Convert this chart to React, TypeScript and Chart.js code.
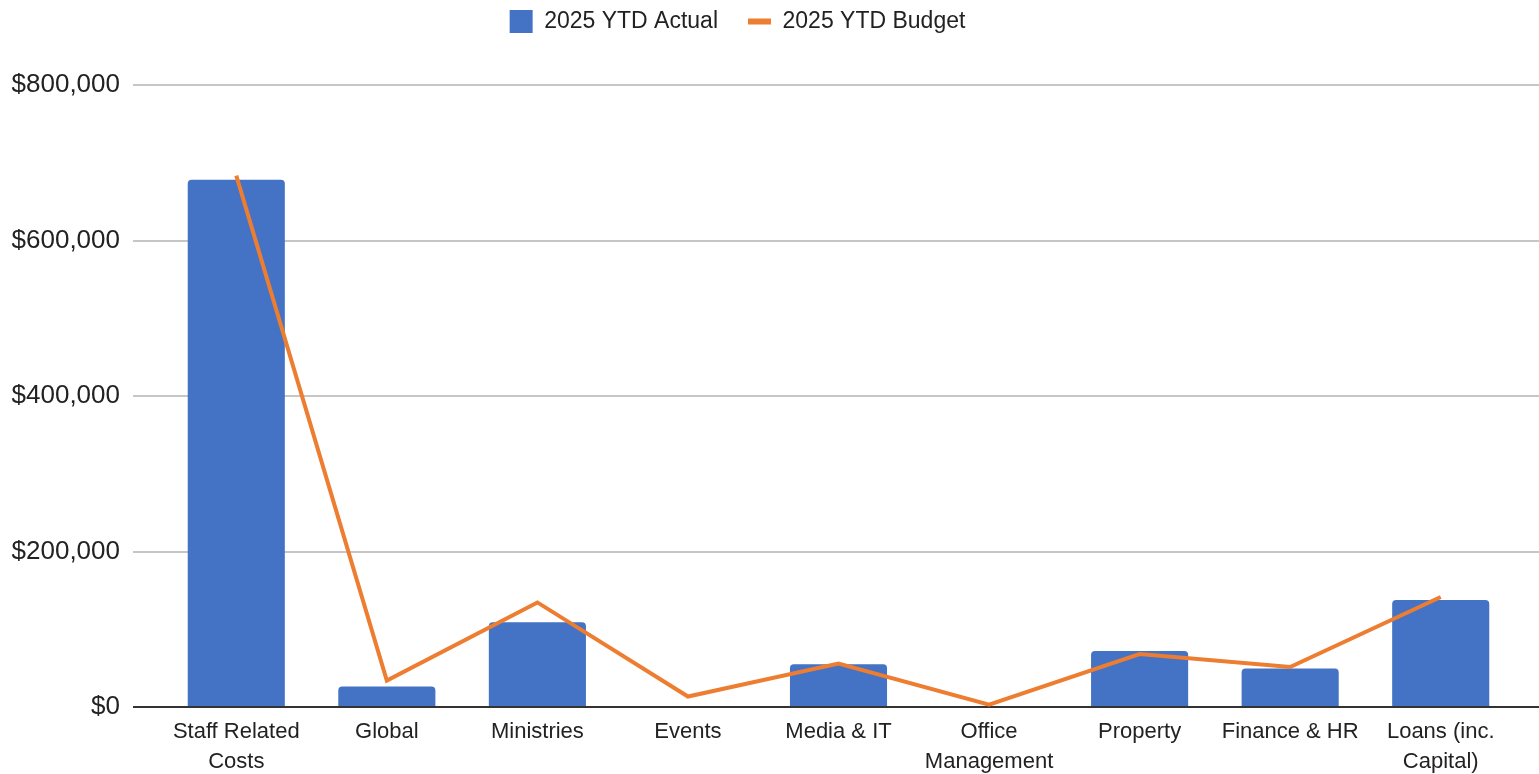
import React, { useEffect, useRef } from 'react';
import { Chart, registerables } from 'chart.js';

Chart.register(...registerables);

const categories: (string | string[])[] = [
  ['Staff Related', 'Costs'],
  'Global',
  'Ministries',
  'Events',
  'Media & IT',
  ['Office', 'Management'],
  'Property',
  'Finance & HR',
  ['Loans (inc.', 'Capital)'],
];
const actualValues = [678000, 26500, 109000, 0, 55000, 0, 72000, 49500, 137500];
const budgetValues = [683500, 34000, 134500, 13500, 56000, 3000, 68000, 51500, 141500];
const seriesNames = ['2025 YTD Actual', '2025 YTD Budget'];
const yMin = 0;
const yMax = 800000;
const yStep = 200000;

const BLUE = '#4472C4';
const ORANGE = '#ED7D31';
const FONT = "Arial, 'Liberation Sans', sans-serif";

const gridColor = (c: any) => (c.tick && c.tick.value === 0 ? '#333333' : '#c6c6c6');

const legendTweak = {
  id: 'legendTweak',
  beforeInit(chart: any) {
    const legend = chart.legend;
    if (!legend) return;
    const origFit = legend.fit;
    legend.fit = function () {
      origFit.call(this);
      this.height = 85;
    };
  },
  afterLayout(chart: any) {
    const l = chart.legend;
    if (!l) return;
    l.left -= 32;
    l.right -= 32;
    l.top -= 20;
    l.bottom -= 20;
  },
};

export default function App() {
  const ref = useRef<HTMLCanvasElement | null>(null);

  useEffect(() => {
    if (!ref.current) return;
    const chart = new Chart(ref.current, {
      type: 'bar',
      data: {
        labels: categories as any,
        datasets: [
          {
            type: 'bar',
            label: seriesNames[0],
            data: actualValues,
            backgroundColor: BLUE,
            borderWidth: 0,
            borderRadius: { topLeft: 4, topRight: 4, bottomLeft: 0, bottomRight: 0 },
            borderSkipped: 'bottom',
            categoryPercentage: 1,
            barPercentage: 0.645,
            order: 1,
          } as any,
          {
            type: 'line',
            label: seriesNames[1],
            data: budgetValues,
            borderColor: ORANGE,
            backgroundColor: ORANGE,
            borderWidth: 4,
            pointRadius: 0,
            pointHoverRadius: 0,
            tension: 0,
            fill: false,
            order: 0,
          } as any,
        ],
      },
      options: {
        animation: false,
        responsive: true,
        maintainAspectRatio: false,
        layout: { padding: 0 },
        plugins: {
          tooltip: { enabled: false },
          legend: {
            display: true,
            position: 'top',
            labels: {
              usePointStyle: true,
              pointStyleWidth: 23,
              boxHeight: 23,
              padding: 30,
              color: '#222222',
              font: { family: FONT, size: 23 },
              generateLabels: (ch: any) =>
                ch.data.datasets.map((ds: any, i: number) =>
                  ds.type === 'line'
                    ? {
                        text: ds.label,
                        datasetIndex: i,
                        pointStyle: 'line',
                        strokeStyle: ORANGE,
                        fillStyle: ORANGE,
                        lineWidth: 6,
                        fontColor: '#222222',
                        hidden: false,
                      }
                    : {
                        text: ds.label,
                        datasetIndex: i,
                        pointStyle: 'rect',
                        strokeStyle: BLUE,
                        fillStyle: BLUE,
                        lineWidth: 0,
                        fontColor: '#222222',
                        hidden: false,
                      }
                ),
            },
          },
        },
        scales: {
          x: {
            offset: true,
            grid: { display: false, drawTicks: false },
            border: { display: false },
            ticks: {
              autoSkip: false,
              maxRotation: 0,
              minRotation: 0,
              padding: 10,
              color: '#222222',
              font: { family: FONT, size: 22, lineHeight: 1.36 },
            },
            afterFit: (s: any) => {
              s.height = 67;
            },
          },
          y: {
            position: 'left',
            min: yMin,
            max: yMax,
            ticks: {
              stepSize: yStep,
              padding: 13,
              color: '#222222',
              font: { family: FONT, size: 26 },
              callback: (v: any) => '$' + Number(v).toLocaleString('en-US'),
            },
            grid: {
              color: gridColor,
              lineWidth: 2,
              tickLength: 28,
              drawTicks: true,
            },
            border: { display: false },
            afterFit: (s: any) => {
              s.width = 161;
            },
          },
          y2: {
            position: 'right',
            min: yMin,
            max: yMax,
            ticks: { stepSize: yStep, display: false },
            grid: {
              color: gridColor,
              lineWidth: 2,
              tickLength: 23,
              drawTicks: true,
              drawOnChartArea: false,
            },
            border: { display: false },
            afterFit: (s: any) => {
              s.width = 23;
            },
          },
        },
      } as any,
      plugins: [legendTweak],
    });
    return () => chart.destroy();
  }, []);

  return (
    <div style={{ position: 'fixed', left: 0, top: 0, width: 1539, height: 774, background: '#ffffff' }}>
      <canvas ref={ref} />
    </div>
  );
}
